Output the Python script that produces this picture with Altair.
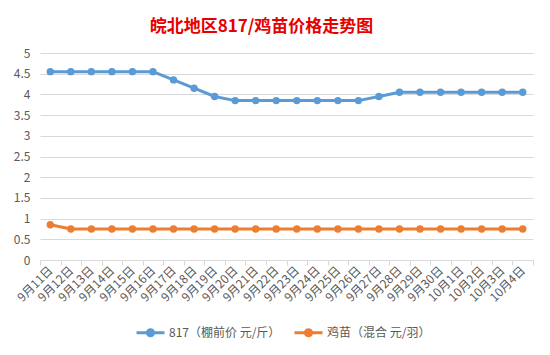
import altair as alt
import pandas as pd

dates = ["9月11日", "9月12日", "9月13日", "9月14日", "9月15日", "9月16日", "9月17日", "9月18日",
         "9月19日", "9月20日", "9月21日", "9月22日", "9月23日", "9月24日", "9月25日", "9月26日",
         "9月27日", "9月28日", "9月29日", "9月30日", "10月1日", "10月2日", "10月3日", "10月4日"]
price_817 = [4.55, 4.55, 4.55, 4.55, 4.55, 4.55, 4.35, 4.15, 3.95, 3.85, 3.85, 3.85, 3.85, 3.85,
             3.85, 3.85, 3.95, 4.05, 4.05, 4.05, 4.05, 4.05, 4.05, 4.05]
price_chick = [0.85, 0.75, 0.75, 0.75, 0.75, 0.75, 0.75, 0.75, 0.75, 0.75, 0.75, 0.75, 0.75, 0.75,
               0.75, 0.75, 0.75, 0.75, 0.75, 0.75, 0.75, 0.75, 0.75, 0.75]
series_names = ["817（棚前价 元/斤）", "鸡苗（混合 元/羽）"]
series_colors = ["#5B9BD5", "#ED7D31"]

rows = []
for d, v in zip(dates, price_817):
    rows.append({"date": d, "value": v, "series": series_names[0]})
for d, v in zip(dates, price_chick):
    rows.append({"date": d, "value": v, "series": series_names[1]})
df = pd.DataFrame(rows)

FONT = "Noto Sans CJK SC"

x = alt.X("date:N", sort=dates, title=None,
          scale=alt.Scale(paddingInner=0, paddingOuter=0),
          axis=alt.Axis(labelAngle=-45, labelAlign="right", labelBaseline="middle",
                        labelFontSize=12, labelColor="#595959", labelFont=FONT,
                        domainColor="#d9d9d9", tickColor="#d9d9d9", tickSize=5,
                        tickBand="extent", grid=False, labelPadding=3))
y = alt.Y("value:Q", title=None,
          scale=alt.Scale(domain=[0, 5], nice=False),
          axis=alt.Axis(values=[0, 0.5, 1, 1.5, 2, 2.5, 3, 3.5, 4, 4.5, 5],
                        labelFontSize=12, labelColor="#595959", labelFont=FONT,
                        domain=False, ticks=False, gridColor="#d9d9d9", labelPadding=10,
                        labelExpr="datum.value"))
color = alt.Color("series:N",
                  scale=alt.Scale(domain=series_names, range=series_colors),
                  legend=alt.Legend(title=None, orient="none", direction="horizontal",
                                    legendX=95, legendY=264,
                                    labelFontSize=12, labelColor="#595959", labelFont=FONT,
                                    symbolType="M-1,0L1,0M0.22,0A0.22,0.22 0 1,1 -0.22,0A0.22,0.22 0 1,1 0.22,0",
                                    symbolSize=784, symbolStrokeWidth=3,
                                    columnPadding=7, labelOffset=3))

line = alt.Chart(df).mark_line(strokeWidth=3).encode(x=x, y=y, color=color)
pts = alt.Chart(df).mark_point(filled=True, size=55, opacity=1).encode(x=x, y=y, color=color)

chart = alt.layer(line, pts).properties(
    width=493, height=207,
    padding={"left": 32, "top": 45, "right": 9, "bottom": 87},
    autosize=alt.AutoSizeParams(type="none"),
    title=alt.TitleParams("皖北地区817/鸡苗价格走势图", font=FONT, fontSize=17, fontWeight="bold",
                          color="#E60000", anchor="middle", dx=-25, offset=11),
    background="white",
).configure_view(stroke=None)

chart.save("out.html", embed_options={"renderer": "svg", "actions": False})
